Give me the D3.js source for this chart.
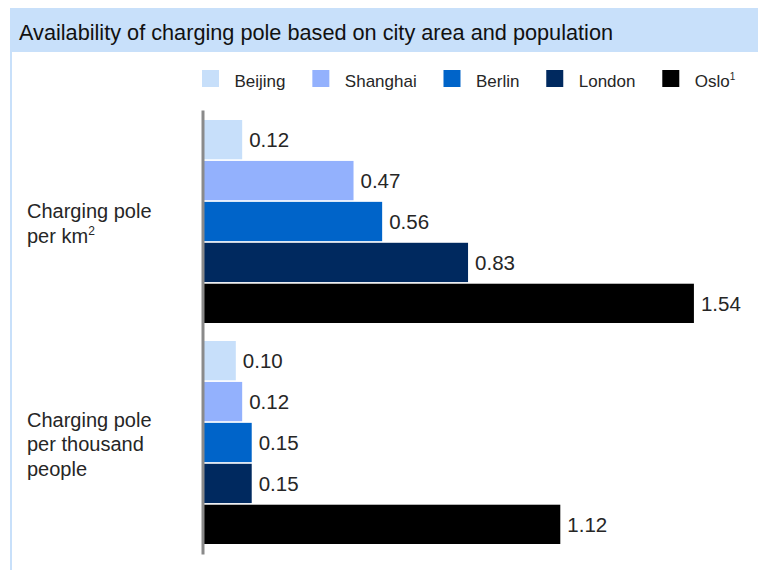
<!DOCTYPE html>
<html>
<head>
<meta charset="utf-8">
<script src="https://cdn.jsdelivr.net/npm/d3@7"></script>
<style>
  html, body { margin: 0; padding: 0; background: #fff; }
  svg { display: block; font-family: "Liberation Sans", Arial, Helvetica, sans-serif; }
</style>
</head>
<body>
<svg id="chart" width="758" height="570"></svg>
<script>
// Chart data
const title = "Availability of charging pole based on city area and population";
const cities = ["Beijing", "Shanghai", "Berlin", "London", "Oslo"];
const citySup = ["", "", "", "", "1"];
const cityColors = ["#c7dffa", "#93b1fd", "#0064c9", "#00295f", "#000000"];
const metrics = ["perKm2", "perThousand"];
const metricLines = [
  [["Charging pole"], ["per km", "2"]],
  [["Charging pole"], ["per thousand"], ["people"]]
];
const perKm2 = [0.12, 0.47, 0.56, 0.83, 1.54];
const perThousand = [0.10, 0.12, 0.15, 0.15, 1.12];
const labels = { perKm2: ["0.12", "0.47", "0.56", "0.83", "1.54"],
                 perThousand: ["0.10", "0.12", "0.15", "0.15", "1.12"] };

const values = { perKm2, perThousand };
const svg = d3.select("#chart");
const textColor = "#262626";
const bandColor = "#c8e0fa";

// Header band and left rule
svg.append("rect").attr("x", 10).attr("y", 8).attr("width", 748).attr("height", 44).attr("fill", bandColor);
svg.append("rect").attr("x", 10).attr("y", 52).attr("width", 2).attr("height", 518).attr("fill", bandColor);
svg.append("text")
  .attr("x", 19).attr("y", 39.5)
  .attr("font-size", 21.7)
  .attr("fill", "#111")
  .text(title);

// Legend
const legend = svg.append("g");
let lx = 202;
cities.forEach((c, i) => {
  legend.append("rect").attr("x", lx).attr("y", 70).attr("width", 17).attr("height", 17)
    .attr("fill", cityColors[i]);
  const t = legend.append("text").attr("x", lx + 32.5).attr("y", 86.5)
    .attr("font-size", 17).attr("fill", textColor).text(c);
  if (citySup[i]) {
    t.append("tspan").attr("font-size", 10).attr("dy", -7).text(citySup[i]);
  }
  lx += 32.5 + t.node().getComputedTextLength() + 26.8;
});

// Scales
const y0 = d3.scaleBand().domain(metrics).range([120, 544]).paddingInner(0.0814).paddingOuter(0);
const y1 = d3.scaleBand().domain(cities).range([0, y0.bandwidth()]).paddingInner(0.04);
const x = d3.scaleLinear().domain([0, 1.6]).range([204, 713]);

// Bars and value labels
metrics.forEach((m, mi) => {
  const g = svg.append("g").attr("transform", `translate(0,${y0(m)})`);
  g.selectAll("rect").data(cities).join("rect")
    .attr("x", x(0))
    .attr("y", c => y1(c))
    .attr("width", (c, i) => x(values[m][i]) - x(0))
    .attr("height", y1.bandwidth())
    .attr("fill", (c, i) => cityColors[i]);
  g.selectAll("text.val").data(cities).join("text")
    .attr("class", "val")
    .attr("x", (c, i) => x(values[m][i]) + 7)
    .attr("y", c => y1(c) + y1.bandwidth() / 2 + 7.5)
    .attr("font-size", 20.5)
    .attr("fill", textColor)
    .text((c, i) => labels[m][i]);

  // Category label
  const lines = metricLines[mi];
  const lh = 24.5;
  const cy = y0(m) + y0.bandwidth() / 2;
  const first = cy - (lines.length - 1) / 2 * lh + 9;
  lines.forEach((ln, li) => {
    const t = svg.append("text").attr("x", 27).attr("y", first + li * lh)
      .attr("font-size", 20).attr("fill", textColor).text(ln[0]);
    if (ln[1]) t.append("tspan").attr("font-size", 12).attr("dy", -8).text(ln[1]);
  });
});

// Vertical baseline axis
const axisScale = d3.scaleLinear().domain([0, 1]).range([110, 554]);
const axisG = svg.append("g").attr("transform", "translate(202.5,0)")
  .call(d3.axisLeft(axisScale).ticks(0).tickSizeOuter(0).tickFormat(""));
axisG.select(".domain").attr("stroke", "#8a8a8a").attr("stroke-width", 3);
</script>
</body>
</html>
